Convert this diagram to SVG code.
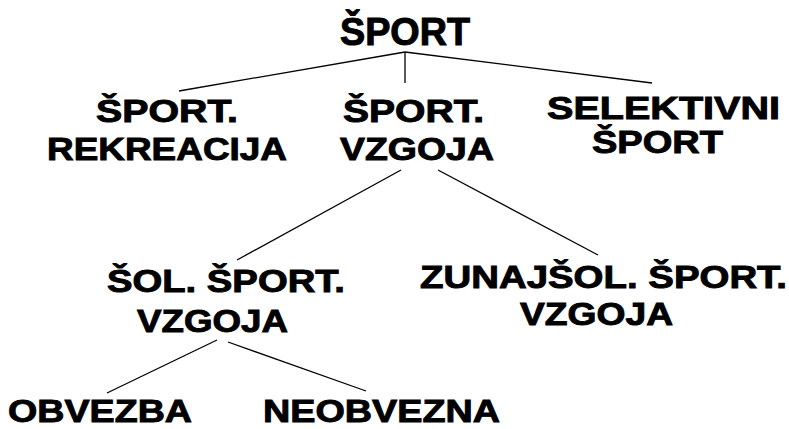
<svg xmlns="http://www.w3.org/2000/svg" width="789" height="429" viewBox="0 0 789 429">
<style>
text{font-family:"Liberation Sans",Arial,sans-serif;font-weight:bold;fill:#000;stroke:#000;stroke-width:0.9;font-size:31px}
.t{font-size:38px;stroke-width:1}
line{stroke:#000;stroke-width:1.3}
</style>
<rect width="789" height="429" fill="#fff"/>
<g id="connectors">
<line x1="405" y1="52" x2="179" y2="91"/>
<line x1="405" y1="52" x2="652" y2="83"/>
<line x1="405" y1="52" x2="405" y2="83"/>
<line x1="401" y1="170" x2="237" y2="260"/>
<line x1="438" y1="170" x2="598" y2="255"/>
<line x1="217" y1="340" x2="107" y2="393"/>
<line x1="228" y1="342" x2="366" y2="391"/>
</g>
<g id="sport"><text class="t" x="340" y="45" textLength="130" lengthAdjust="spacingAndGlyphs">ŠPORT</text></g>
<g id="rekreacija">
<text x="96" y="122" textLength="142" lengthAdjust="spacingAndGlyphs">ŠPORT.</text>
<text x="47" y="160" textLength="240" lengthAdjust="spacingAndGlyphs">REKREACIJA</text>
</g>
<g id="vzgoja">
<text x="343" y="122" textLength="141" lengthAdjust="spacingAndGlyphs">ŠPORT.</text>
<text x="340" y="160" textLength="154" lengthAdjust="spacingAndGlyphs">VZGOJA</text>
</g>
<g id="selektivni">
<text x="547" y="119" textLength="233" lengthAdjust="spacingAndGlyphs">SELEKTIVNI</text>
<text x="592" y="153" textLength="131" lengthAdjust="spacingAndGlyphs">ŠPORT</text>
</g>
<g id="solska">
<text x="107" y="292" textLength="238" lengthAdjust="spacingAndGlyphs">ŠOL. ŠPORT.</text>
<text x="137" y="332" textLength="151" lengthAdjust="spacingAndGlyphs">VZGOJA</text>
</g>
<g id="zunajsolska">
<text x="420" y="288" textLength="367" lengthAdjust="spacingAndGlyphs">ZUNAJŠOL. ŠPORT.</text>
<text x="520" y="325" textLength="153" lengthAdjust="spacingAndGlyphs">VZGOJA</text>
</g>
<g id="obvezba"><text x="8" y="422" textLength="184" lengthAdjust="spacingAndGlyphs">OBVEZBA</text></g>
<g id="neobvezna"><text x="263" y="422" textLength="237" lengthAdjust="spacingAndGlyphs">NEOBVEZNA</text></g>
</svg>
